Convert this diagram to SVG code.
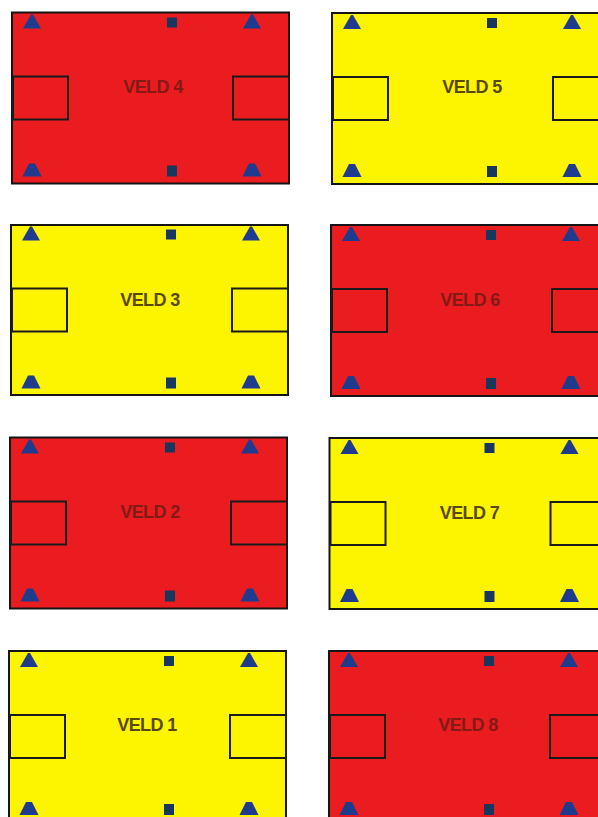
<svg xmlns="http://www.w3.org/2000/svg" xmlns:xlink="http://www.w3.org/1999/xlink" width="598" height="817" viewBox="0 0 598 817">
  <style>
    .red { fill: #ea1c1f; stroke: #141414; stroke-width: 2; }
    .yellow { fill: #fdf500; stroke: #141414; stroke-width: 2; }
    .goal { fill: none; stroke: #1a1a1a; stroke-width: 2; }
    .tri { fill: #1f3b8e; }
    .sq { fill: #17375e; }
    .lbl { font-family: "Liberation Sans", Arial, sans-serif; font-size: 18px; font-weight: bold; text-anchor: middle; letter-spacing: -0.6px; }
    .lbl-y { fill: #5a480c; }
    .lbl-r { fill: #831a16; }
  </style>
  <defs>
    <g id="markers">
      <rect class="goal" x="1" y="64" width="55" height="43"/>
      <rect class="goal" x="221" y="64" width="56" height="43"/>
      <polygon class="tri" points="11,16 19,2 21,2 29,16"/>
      <polygon class="tri" points="231,16 239,2 241,2 249,16"/>
      <rect class="sq" x="155" y="5" width="10" height="10"/>
      <polygon class="tri" points="10.5,164 17,151 23,151 29.5,164"/>
      <polygon class="tri" points="230.5,164 237,151 243,151 249.5,164"/>
      <rect class="sq" x="155" y="153" width="10" height="11"/>
    </g>
  </defs>
  <rect x="0" y="0" width="598" height="817" fill="#ffffff"/>
  <g id="connectors"></g>

  <g id="veld4" transform="translate(12,12.5)">
    <rect class="red" x="0" y="0" width="277" height="171"/>
    <use xlink:href="#markers" href="#markers"/>
    <text class="lbl lbl-r" x="141" y="80">VELD 4</text>
  </g>
  <g id="veld5" transform="translate(332,13)">
    <rect class="yellow" x="0" y="0" width="277" height="171"/>
    <use xlink:href="#markers" href="#markers"/>
    <text class="lbl lbl-y" x="140" y="80">VELD 5</text>
  </g>
  <g id="veld3" transform="translate(11,225)">
    <rect class="yellow" x="0" y="0" width="277" height="170"/>
    <use xlink:href="#markers" href="#markers" transform="translate(0,-0.5)"/>
    <text class="lbl lbl-y" x="139" y="81">VELD 3</text>
  </g>
  <g id="veld6" transform="translate(331,225)">
    <rect class="red" x="0" y="0" width="277" height="171"/>
    <use xlink:href="#markers" href="#markers"/>
    <text class="lbl lbl-r" x="139" y="81">VELD 6</text>
  </g>
  <g id="veld2" transform="translate(10,437.5)">
    <rect class="red" x="0" y="0" width="277" height="171"/>
    <use xlink:href="#markers" href="#markers"/>
    <text class="lbl lbl-r" x="140" y="80">VELD 2</text>
  </g>
  <g id="veld7" transform="translate(329.5,438)">
    <rect class="yellow" x="0" y="0" width="277" height="171"/>
    <use xlink:href="#markers" href="#markers"/>
    <text class="lbl lbl-y" x="140" y="81">VELD 7</text>
  </g>
  <g id="veld1" transform="translate(9,651)">
    <rect class="yellow" x="0" y="0" width="277" height="171"/>
    <use xlink:href="#markers" href="#markers"/>
    <text class="lbl lbl-y" x="138" y="80">VELD 1</text>
  </g>
  <g id="veld8" transform="translate(329,651)">
    <rect class="red" x="0" y="0" width="277" height="171"/>
    <use xlink:href="#markers" href="#markers"/>
    <text class="lbl lbl-r" x="139" y="80">VELD 8</text>
  </g>
</svg>
